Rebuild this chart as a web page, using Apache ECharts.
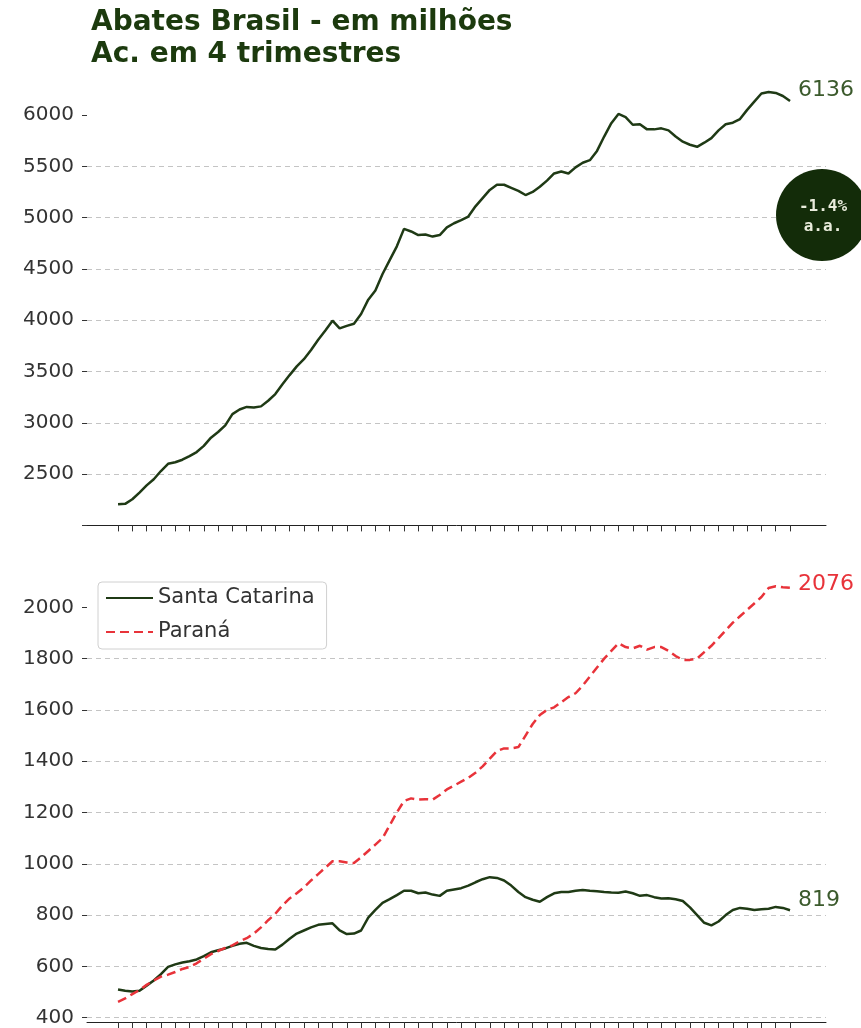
<!DOCTYPE html>
<html>
<head>
<meta charset="utf-8">
<title>Abates Brasil - em milhões</title>
<script src="https://cdn.jsdelivr.net/npm/echarts@6/dist/echarts.min.js"></script>
<style>
    html, body { margin: 0; padding: 0; background: #ffffff; }
    #chart { width: 861px; height: 1028px; }
</style>
</head>
<body>
<div id="chart"></div>
<script>
// abates acumulados em 4 trimestres, em milhões
const brasil = [
    2205, 2210, 2255, 2320, 2390, 2450, 2530, 2600, 2615, 2640,
    2675, 2715, 2775, 2855, 2910, 2975, 3085, 3130, 3155, 3150,
    3160, 3215, 3280, 3375, 3465, 3550, 3620, 3710, 3810, 3900,
    3995, 3920, 3945, 3965, 4060, 4200, 4290, 4450, 4585, 4720,
    4890, 4865, 4830, 4835, 4815, 4830, 4905, 4945, 4975, 5010,
    5110, 5190, 5270, 5320, 5320, 5290, 5260, 5220, 5250, 5300,
    5360, 5430, 5450, 5430, 5490, 5535, 5560, 5650, 5790, 5920,
    6010, 5980, 5905, 5910, 5860, 5860, 5870, 5850, 5790, 5740,
    5710, 5690, 5730, 5775, 5850, 5910, 5925, 5960, 6050, 6130,
    6210, 6225, 6215, 6185, 6136
];
const santaCatarina = [
    510, 505, 502, 505, 525, 545, 570, 598, 608, 615,
    620, 627, 640, 655, 663, 670, 680, 688, 692, 680,
    672, 668, 666, 685, 708, 728, 740, 752, 762, 765,
    768, 740, 726, 728, 740, 790, 820, 848, 862, 878,
    895, 895, 885, 888, 880, 875, 895, 900, 905, 915,
    928, 940, 948, 945, 935, 915, 890, 870, 860, 852,
    870, 885, 890, 890, 895, 898, 895, 893, 890, 888,
    887, 892, 885, 875, 878, 870, 865, 866, 862, 855,
    830, 800, 770, 760, 775, 800, 820, 828, 825, 820,
    823, 825, 832, 828, 819
];
const parana = [
    462, 475, 492, 508, 528, 545, 560, 568, 578, 590,
    598, 612, 630, 648, 660, 672, 682, 698, 710, 728,
    752, 780, 805, 838, 865, 885, 908, 935, 960, 985,
    1010, 1010, 1005, 1003, 1025, 1050, 1075, 1100, 1150, 1200,
    1245, 1255, 1250, 1252, 1250, 1268, 1290, 1305, 1320, 1335,
    1355, 1380, 1410, 1440, 1450, 1450, 1455, 1500, 1545, 1580,
    1600, 1610, 1630, 1650, 1665, 1695, 1730, 1765, 1800, 1830,
    1860, 1845, 1840, 1850, 1835, 1845, 1845, 1830, 1810, 1795,
    1795, 1800, 1825, 1850, 1880, 1910, 1940, 1965, 1990, 2015,
    2040, 2075, 2082, 2078, 2076
];
const yTicksTop = [2000, 2500, 3000, 3500, 4000, 4500, 5000, 5500, 6000];
const yLabelsTop = [2500, 3000, 3500, 4000, 4500, 5000, 5500, 6000];
const yTicksBottom = [400, 600, 800, 1000, 1200, 1400, 1600, 1800, 2000];
// um traço no eixo x a cada dois períodos, sem rótulos
const xTicks = brasil.map((v, i) => i).filter(i => i % 2 === 0);

const FONT = 'DejaVu Sans';
const GREEN = '#1f3a15';
const RED = '#e8333a';

const toPoints = (arr) => arr.map((v, i) => [i, v]);

const xAxisBase = (gridIndex, offset) => ({
    type: 'value',
    gridIndex: gridIndex,
    min: -4.34,
    max: 99.03,
    offset: offset,
    axisLine: { show: true, onZero: false, lineStyle: { color: '#222', width: 1 } },
    axisTick: { show: true, customValues: xTicks, length: 6, lineStyle: { color: '#333', width: 1 } },
    axisLabel: { show: false },
    splitLine: { show: false }
});

const yAxisBase = (gridIndex, min, max, interval, ticks, labels, showMinLine) => ({
    type: 'value',
    gridIndex: gridIndex,
    position: 'left',
    min: min,
    max: max,
    interval: interval,
    axisLine: { show: false, onZero: false },
    axisTick: { show: true, customValues: ticks, length: 5, lineStyle: { color: '#333' } },
    axisLabel: {
        customValues: labels,
        formatter: (v) => String(v),
        margin: 13,
        color: '#333',
        fontSize: 20,
        fontFamily: FONT
    },
    splitLine: {
        show: true,
        showMinLine: showMinLine,
        showMaxLine: false,
        lineStyle: { color: '#c4c4c4', width: 1, type: [5, 4] }
    }
});

const endLabel = (color, dy) => ({
    show: true,
    formatter: (p) => p.value[1],
    color: color,
    fontSize: 22,
    fontFamily: FONT,
    distance: 8,
    offset: [0, dy]
});

const option = {
    animation: false,
    backgroundColor: '#ffffff',
    title: {
        text: 'Abates Brasil - em milhões\nAc. em 4 trimestres',
        left: 86,
        top: 2,
        textStyle: {
            color: '#1c3a0e',
            fontFamily: FONT,
            fontWeight: 'bold',
            fontSize: 28,
            lineHeight: 32
        }
    },
    legend: {
        data: ['Santa Catarina', 'Paraná'],
        orient: 'vertical',
        left: 98,
        top: 582,
        itemWidth: 47,
        itemHeight: 14,
        itemGap: 12,
        padding: [5, 12, 6, 7],
        borderColor: '#d0d0d0',
        borderWidth: 1,
        borderRadius: 4,
        backgroundColor: '#ffffff',
        itemStyle: { opacity: 0 },
        textStyle: { color: '#333', fontSize: 21, fontFamily: FONT, lineHeight: 22 }
    },
    grid: [
        { left: 87, right: 35, top: 63.7, height: 461.7 },
        { left: 87, right: 35, top: 556, height: 461.7 }
    ],
    xAxis: [xAxisBase(0, 0), xAxisBase(1, 4.5)],
    yAxis: [
        yAxisBase(0, 2000, 6500, 500, yTicksTop, yLabelsTop, false),
        yAxisBase(1, 400, 2200, 200, yTicksBottom, yTicksBottom, true)
    ],
    graphic: [
        { type: 'circle', z: 100, shape: { cx: 822, cy: 215, r: 46 }, style: { fill: '#132c09' } },
        {
            type: 'text', z: 101, x: 823, y: 207,
            style: { text: '-1.4%', fill: '#e9ecdc', font: 'bold 16px "DejaVu Sans Mono"', align: 'center', verticalAlign: 'middle' }
        },
        {
            type: 'text', z: 101, x: 823, y: 227,
            style: { text: 'a.a.', fill: '#e9ecdc', font: 'bold 16px "DejaVu Sans Mono"', align: 'center', verticalAlign: 'middle' }
        }
    ],
    series: [
        {
            name: 'Brasil',
            type: 'line',
            xAxisIndex: 0,
            yAxisIndex: 0,
            data: toPoints(brasil),
            symbol: 'none',
            lineStyle: { color: GREEN, width: 2.5 },
            endLabel: endLabel('#3b5a2c', -11)
        },
        {
            name: 'Santa Catarina',
            type: 'line',
            xAxisIndex: 1,
            yAxisIndex: 1,
            data: toPoints(santaCatarina),
            symbol: 'none',
            itemStyle: { color: GREEN },
            lineStyle: { color: GREEN, width: 2.5 },
            endLabel: endLabel('#3b5a2c', -10)
        },
        {
            name: 'Paraná',
            type: 'line',
            xAxisIndex: 1,
            yAxisIndex: 1,
            data: toPoints(parana),
            symbol: 'none',
            itemStyle: { color: RED },
            lineStyle: { color: RED, width: 2.5, type: [9, 5] },
            endLabel: endLabel(RED, -4)
        }
    ]
};

const myChart = echarts.init(document.getElementById('chart'));
myChart.setOption(option);
</script>
</body>
</html>
